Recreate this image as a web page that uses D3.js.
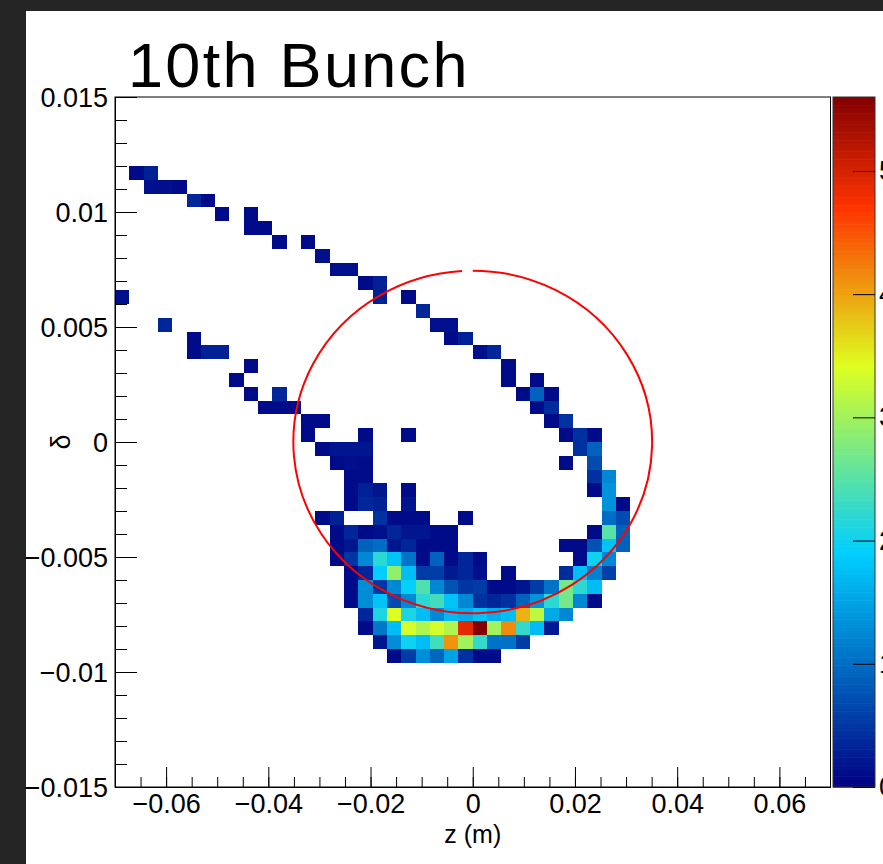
<!DOCTYPE html>
<html>
<head>
<meta charset="utf-8">
<script src="https://cdn.jsdelivr.net/npm/d3@7"></script>
<style>
  html, body { margin: 0; padding: 0; background: #252525; }
  svg { display: block; }
  text { font-family: "Liberation Sans", Arial, sans-serif; fill: #000; }
</style>
</head>
<body>
<div id="chart"></div>
<script>
// 2D histogram: 50 x 50 bins over z and delta
const zRange = [-0.07, 0.07];
const deltaRange = [-0.015, 0.015];
const nBinsZ = 50;
const nBinsDelta = 50;

const zTicks = [-0.06, -0.04, -0.02, 0, 0.02, 0.04, 0.06];
const zTickLabels = ["−0.06", "−0.04", "−0.02", "0", "0.02", "0.04", "0.06"];
const deltaTicks = [0.015, 0.01, 0.005, 0, -0.005, -0.01, -0.015];
const deltaTickLabels = ["0.015", "0.01", "0.005", "0", "−0.005", "−0.01", "−0.015"];
const colorTicks = [0, 1, 2, 3, 4, 5];
const contentMax = 5.6;

// palette (stops / colours)
const paletteStops = [0, 0.34, 0.61, 0.84, 1];
const paletteColors = ["rgb(0,0,130)", "rgb(0,207,255)", "rgb(222,255,31)", "rgb(255,51,0)", "rgb(130,0,0)"];

// bin contents: [deltaBin, first zBin, contents of consecutive z bins] (0 = empty)
const binRows = [
  [44, 1, [0.1, 0.3]],
  [43, 2, [0.15, 0.15, 0.1]],
  [42, 5, [0.35, 0.1]],
  [41, 7, [0.1, 0, 0.1]],
  [40, 9, [0.1, 0.1]],
  [39, 11, [0.1, 0, 0.1]],
  [38, 14, [0.15]],
  [37, 15, [0.15, 0.15]],
  [36, 17, [0.1, 0.3]],
  [35, 0, [0.15]],
  [35, 18, [0.3, 0, 0.1]],
  [34, 21, [0.35]],
  [33, 3, [0.35]],
  [33, 22, [0.15, 0.15]],
  [32, 5, [0.1]],
  [32, 23, [0.1, 0.3]],
  [31, 5, [0.1, 0.3, 0.3]],
  [31, 25, [0.15, 0.35]],
  [30, 9, [0.1]],
  [30, 27, [0.1]],
  [29, 8, [0.1]],
  [29, 27, [0.1, 0, 0.1]],
  [28, 9, [0.1, 0, 0.35]],
  [28, 28, [0.1, 0.9, 0.1]],
  [27, 10, [0.1, 0.1, 0.1]],
  [27, 29, [0.1, 0.4]],
  [26, 13, [0.1, 0.1]],
  [26, 30, [0.1, 0.45]],
  [25, 13, [0.1, 0, 0, 0, 0.1, 0, 0, 0.1]],
  [25, 31, [0.1, 0.45, 0.1]],
  [24, 14, [0.1, 0.2, 0.2, 0.2]],
  [24, 32, [0.45, 0.9]],
  [23, 15, [0.1, 0.15, 0.1]],
  [23, 31, [0.1, 0, 0.7]],
  [22, 16, [0.1, 0.1]],
  [22, 33, [0.45, 1.25]],
  [21, 16, [0.1, 0.3, 0.2, 0, 0.1]],
  [21, 33, [0.1, 1.35]],
  [20, 16, [0.1, 0.35, 0.3, 0, 0.2]],
  [20, 34, [1.35, 0.1]],
  [19, 14, [0.1, 0.3, 0, 0, 0.45, 0.1, 0.1, 0.1, 0, 0, 0.1]],
  [19, 34, [1.0, 0.7]],
  [18, 15, [0.1, 0.35, 0.1, 0.15, 0.35, 0.2, 0.2, 0.1, 0.1]],
  [18, 33, [0.1, 2.5, 0.9]],
  [17, 15, [0.1, 0.2, 0.9, 1.0, 0.2, 0.35, 0.1, 0.1, 0.1]],
  [17, 31, [0.1, 0.1, 0.75, 1.8, 0.9]],
  [16, 15, [0.1, 0.5, 1.25, 2.2, 1.8, 1.05, 0.1, 0.9, 0.1, 0.35, 0.1]],
  [16, 32, [0.1, 2.0, 1.25]],
  [15, 16, [0.1, 0.35, 1.9, 2.9, 1.75, 0.55, 0.55, 0.25, 0.35, 0.15, 0, 0.1]],
  [15, 31, [0.4, 1.75, 1.2, 0.6]],
  [14, 16, [0.1, 1.3, 0.5, 1.25, 1.95, 2.45, 1.25, 0.75, 0.5, 0.55, 0.1, 0.1, 0.2, 0.55, 1.05, 2.7, 2.2, 1.75]],
  [13, 16, [0.1, 1.3, 1.8, 0.7, 1.25, 2.2, 2.35, 1.8, 1.25, 0.45, 0.35, 0.45, 0.9, 1.35, 2.2, 2.7, 1.25, 0.1]],
  [12, 17, [0.35, 2.1, 3.4, 2.1, 1.75, 1.25, 1.7, 1.6, 1.8, 1.6, 1.75, 3.9, 3.2, 1.55, 1.25]],
  [11, 17, [0.1, 1.1, 1.75, 3.35, 3.1, 3.35, 3.1, 4.9, 5.6, 3.0, 4.15, 2.25, 1.75, 0.25]],
  [10, 18, [0.2, 1.3, 2.0, 1.75, 2.35, 4.1, 3.0, 2.25, 1.05, 1.05, 0.55]],
  [9, 19, [0.1, 0.55, 1.3, 0.95, 1.5, 0.45, 0.1, 0.1]]
];

// acceptance ellipse (red curve), angles in degrees
const ellipse = { z0: 0, delta0: 0, zHalf: 0.0351, deltaHalf: 0.00745, startDeg: 90, endDeg: 93.4 };

const width = 883;
const height = 864;
const frame = { left: 115, right: 830.5, top: 97, bottom: 787 };

const svg = d3
  .select("#chart")
  .append("svg")
  .attr("width", width)
  .attr("height", height);

// canvas background
svg.append("rect").attr("width", width).attr("height", height).attr("fill", "#252525");
svg.append("rect").attr("x", 26).attr("y", 11).attr("width", width - 26).attr("height", height - 11).attr("fill", "#fff");

const x = d3.scaleLinear().domain(zRange).range([frame.left, frame.right]);
const y = d3.scaleLinear().domain(deltaRange).range([frame.bottom, frame.top]);

const color = d3
  .scaleLinear()
  .domain(paletteStops.map((s) => s * contentMax))
  .range(paletteColors)
  .clamp(true);

const zBinW = (zRange[1] - zRange[0]) / nBinsZ;
const dBinW = (deltaRange[1] - deltaRange[0]) / nBinsDelta;

// flatten rows into cells
const cells = [];
binRows.forEach(([dBin, zStart, vals]) => {
  vals.forEach((v, k) => {
    if (v > 0) cells.push({ zBin: zStart + k, dBin, v });
  });
});

// cells
const xe = (i) => Math.round(x(zRange[0] + i * zBinW));
const ye = (j) => Math.round(y(deltaRange[0] + j * dBinW));
svg
  .append("g")
  .selectAll("rect")
  .data(cells)
  .enter()
  .append("rect")
  .attr("x", (d) => xe(d.zBin))
  .attr("width", (d) => xe(d.zBin + 1) - xe(d.zBin))
  .attr("y", (d) => ye(d.dBin + 1))
  .attr("height", (d) => ye(d.dBin) - ye(d.dBin + 1))
  .attr("fill", (d) => color(d.v));

// red ellipse
const rad = Math.PI / 180;
const p0 = [x(ellipse.z0 + ellipse.zHalf * Math.cos(ellipse.startDeg * rad)), y(ellipse.delta0 + ellipse.deltaHalf * Math.sin(ellipse.startDeg * rad))];
const p1 = [x(ellipse.z0 + ellipse.zHalf * Math.cos(ellipse.endDeg * rad)), y(ellipse.delta0 + ellipse.deltaHalf * Math.sin(ellipse.endDeg * rad))];
const rx = x(ellipse.zHalf) - x(0);
const ry = y(0) - y(ellipse.deltaHalf);
svg
  .append("path")
  .attr("d", `M${p0[0]},${p0[1]} A${rx},${ry} 0 1 1 ${p1[0]},${p1[1]}`)
  .attr("fill", "none")
  .attr("stroke", "#ff0000")
  .attr("stroke-width", 2);

// frame border
svg
  .append("rect")
  .attr("x", frame.left)
  .attr("y", frame.top)
  .attr("width", frame.right - frame.left)
  .attr("height", frame.bottom - frame.top)
  .attr("fill", "none")
  .attr("stroke", "#000")
  .attr("stroke-width", 1);

// axes
const minorZ = d3.range(-13, 14).map((k) => k * 0.005);
const minorD = d3.range(-15, 16).map((k) => k * 0.001);

function styleAxis(g) {
  g.select(".domain").attr("stroke", "#000");
  g.selectAll(".tick line").attr("stroke", "#000");
  g.selectAll("text").attr("font-size", 27).attr("font-family", "Liberation Sans, Arial, sans-serif").attr("fill", "#000");
}

svg
  .append("g")
  .attr("transform", `translate(0,${frame.bottom})`)
  .call(d3.axisBottom(x).tickValues(minorZ).tickSize(-10).tickSizeOuter(0).tickFormat(""))
  .call(styleAxis);

svg
  .append("g")
  .attr("transform", `translate(0,${frame.bottom})`)
  .call(
    d3.axisBottom(x).tickValues(zTicks).tickSize(-20).tickSizeOuter(0).tickPadding(7)
      .tickFormat((d, i) => zTickLabels[i])
  )
  .call(styleAxis);

svg
  .append("g")
  .attr("transform", `translate(${frame.left},0)`)
  .call(d3.axisLeft(y).tickValues(minorD).tickSize(-12).tickSizeOuter(0).tickFormat(""))
  .call(styleAxis);

svg
  .append("g")
  .attr("transform", `translate(${frame.left},0)`)
  .call(
    d3.axisLeft(y).tickValues(deltaTicks).tickSize(-22).tickSizeOuter(0).tickPadding(7)
      .tickFormat((d, i) => deltaTickLabels[i])
  )
  .call(styleAxis)
  .selectAll("text")
  .attr("dy", "0.36em");

// axis titles
svg
  .append("text")
  .attr("x", (frame.left + frame.right) / 2)
  .attr("y", 843)
  .attr("text-anchor", "middle")
  .attr("font-size", 25)
  .text("z (m)");

svg
  .append("text")
  .attr("transform", `translate(70,${y(0)}) rotate(-90)`)
  .attr("text-anchor", "middle")
  .attr("font-size", 27)
  .text("δ");

// colour bar
const bar = { left: 833, right: 875 };
const cb = d3.scaleLinear().domain([0, contentMax]).range([frame.bottom, frame.top]);
const nLevels = 255;
svg
  .append("g")
  .selectAll("rect")
  .data(d3.range(nLevels))
  .enter()
  .append("rect")
  .attr("x", bar.left)
  .attr("width", bar.right - bar.left)
  .attr("y", (k) => cb(((k + 1) / nLevels) * contentMax))
  .attr("height", (k) => cb((k / nLevels) * contentMax) - cb(((k + 1) / nLevels) * contentMax) + 0.6)
  .attr("fill", (k) => color(((k + 0.5) / nLevels) * contentMax));

svg
  .append("rect")
  .attr("x", bar.left)
  .attr("y", frame.top)
  .attr("width", bar.right - bar.left)
  .attr("height", frame.bottom - frame.top)
  .attr("fill", "none")
  .attr("stroke", "#333")
  .attr("stroke-width", 1);

svg
  .append("g")
  .attr("transform", `translate(${bar.right},0)`)
  .call(d3.axisRight(cb).tickValues(colorTicks).tickSize(-22).tickSizeOuter(0).tickPadding(4).tickFormat(d3.format("d")))
  .call(styleAxis)
  .call((g) => g.select(".domain").remove());

// title
svg
  .append("text")
  .attr("x", 128)
  .attr("y", 87)
  .attr("font-family", "'Lato Light', Lato, 'Open Sans', sans-serif")
  .attr("font-weight", 300)
  .attr("font-size", 63)
  .attr("letter-spacing", 2.3)
  .attr("fill", "#2a2a2a")
  .text("10th Bunch");
</script>
</body>
</html>
